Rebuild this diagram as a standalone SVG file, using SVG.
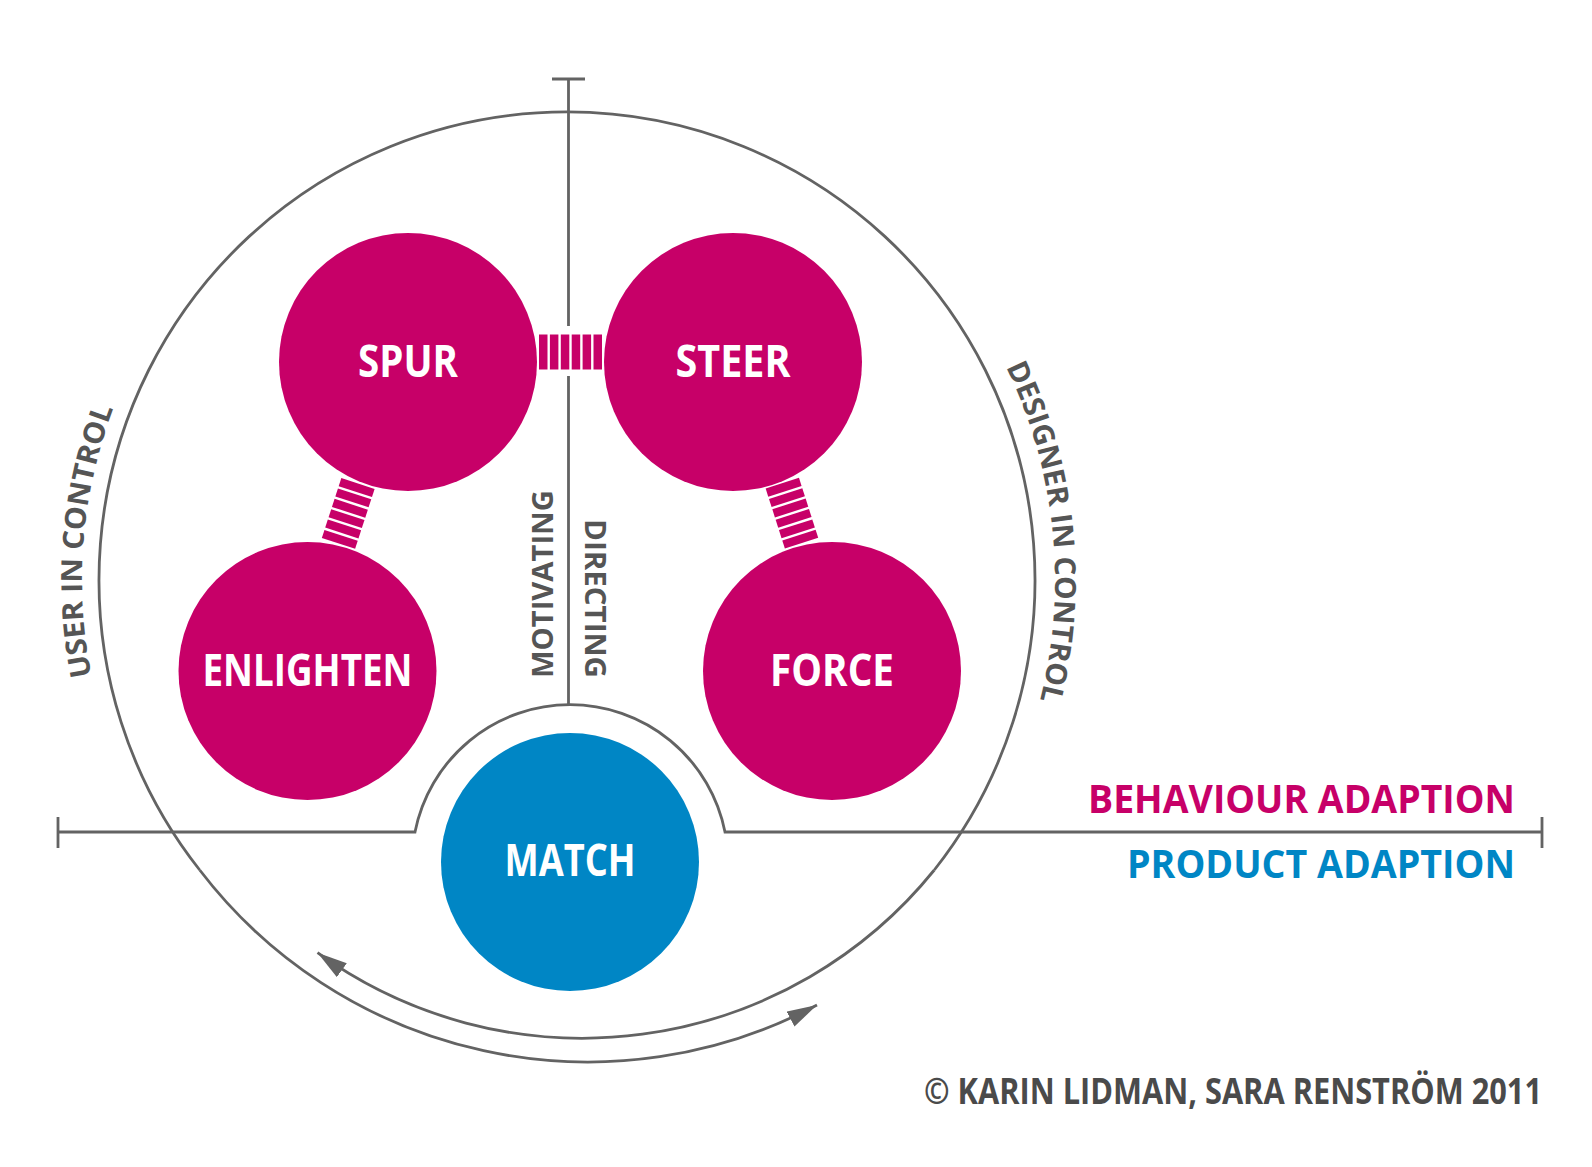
<svg xmlns="http://www.w3.org/2000/svg" width="1592" height="1167" viewBox="0 0 1592 1167">
  <style>
    .ln { fill: none; stroke: #636363; stroke-width: 2.8; }
    .mag { fill: #C70068; }
    .blu { fill: #0086C5; }
    .node-label { font-family: "Open Sans", "Liberation Sans", sans-serif; font-weight: 700; font-size: 45px; fill: #ffffff; }
    .gray-label { font-family: "Open Sans", "Liberation Sans", sans-serif; font-weight: 700; font-size: 29px; fill: #555555; }
    .legend { font-family: "Open Sans", "Liberation Sans", sans-serif; font-weight: 700; font-size: 39px; }
    .copy { font-family: "Open Sans", "Liberation Sans", sans-serif; font-weight: 700; font-size: 28px; fill: #4a4a4a; }
  </style>
  <defs>
    <marker id="arrow" viewBox="0 0 30 17" refX="30" refY="8.5" markerWidth="30" markerHeight="17" markerUnits="userSpaceOnUse" orient="auto">
      <path d="M0,0 L30,8.5 L0,17 Z" fill="#636363"/>
    </marker>
    <g id="stripes">
      <rect x="131" y="-7.5" width="8.5" height="35"/>
      <rect x="141.9" y="-7.5" width="8.5" height="35"/>
      <rect x="152.8" y="-7.5" width="8.5" height="35"/>
      <rect x="163.7" y="-7.5" width="8.5" height="35"/>
      <rect x="174.6" y="-7.5" width="8.5" height="35"/>
      <rect x="185.5" y="-7.5" width="8.5" height="35"/>
    </g>
    <path id="userPath" d="M91.8,677 A485,485 0 0 1 114.7,405"/>
    <path id="designerPath" d="M1005.1,365 A488,488 0 0 1 1039.3,703"/>
  </defs>

  <rect width="1592" height="1167" fill="#ffffff"/>

  <g id="axes">
    <path class="ln" d="M934.3,870 A468,468 0 1 0 199.7,870"/>
    <path class="ln" d="M568.5,79 V326 M568.5,376 V704"/>
    <path class="ln" d="M552,79 H585"/>
    <path class="ln" d="M58,832 H415 A158,158 0 0 1 725,832 H1542"/>
    <path class="ln" d="M58,817 V848 M1542,817 V848"/>
  </g>

  <g id="connectors">
    <path class="ln" d="M934.3,870 A452.5,452.5 0 0 1 317.5,952.7" marker-end="url(#arrow)"/>
    <path class="ln" d="M199.7,870 A488.6,488.6 0 0 0 817,1005" marker-end="url(#arrow)"/>
    <g class="mag">
      <use href="#stripes" transform="translate(733,362) rotate(180)"/>
      <use href="#stripes" transform="translate(408,362) rotate(108.02)"/>
      <use href="#stripes" transform="translate(832,671) rotate(-107.77)"/>
    </g>
  </g>

  <g id="spur">
    <circle class="mag" cx="408" cy="362" r="129"/>
    <text class="node-label" x="408" y="377" text-anchor="middle" textLength="100" lengthAdjust="spacingAndGlyphs">SPUR</text>
  </g>
  <g id="steer">
    <circle class="mag" cx="733" cy="362" r="129"/>
    <text class="node-label" x="733" y="377" text-anchor="middle" textLength="115" lengthAdjust="spacingAndGlyphs">STEER</text>
  </g>
  <g id="enlighten">
    <circle class="mag" cx="307.5" cy="671" r="129"/>
    <text class="node-label" x="307.5" y="686" text-anchor="middle" textLength="210" lengthAdjust="spacingAndGlyphs">ENLIGHTEN</text>
  </g>
  <g id="force">
    <circle class="mag" cx="832" cy="671" r="129"/>
    <text class="node-label" x="832" y="686" text-anchor="middle" textLength="124" lengthAdjust="spacingAndGlyphs">FORCE</text>
  </g>
  <g id="match">
    <circle class="blu" cx="570" cy="862" r="129"/>
    <text class="node-label" x="570" y="876" text-anchor="middle" textLength="131" lengthAdjust="spacingAndGlyphs">MATCH</text>
  </g>

  <g id="labels">
    <text class="gray-label"><textPath href="#userPath" startOffset="1" textLength="272" lengthAdjust="spacingAndGlyphs">USER IN CONTROL</textPath></text>
    <text class="gray-label"><textPath href="#designerPath" startOffset="2" textLength="342" lengthAdjust="spacingAndGlyphs">DESIGNER IN CONTROL</textPath></text>
    <text class="gray-label" transform="translate(553,678) rotate(-90)" textLength="188" lengthAdjust="spacingAndGlyphs">MOTIVATING</text>
    <text class="gray-label" transform="translate(585,678) rotate(90)" text-anchor="end" textLength="159" lengthAdjust="spacingAndGlyphs">DIRECTING</text>
    <text class="legend" x="1515" y="813" text-anchor="end" fill="#C70068" textLength="427" lengthAdjust="spacingAndGlyphs">BEHAVIOUR ADAPTION</text>
    <text class="legend" x="1515" y="878" text-anchor="end" fill="#0086C5" textLength="388" lengthAdjust="spacingAndGlyphs">PRODUCT ADAPTION</text>
    <text class="copy" transform="translate(924,1104) scale(1,1.25)" x="0" y="0" textLength="618" lengthAdjust="spacingAndGlyphs">© KARIN LIDMAN, SARA RENSTRÖM 2011</text>
  </g>
</svg>
